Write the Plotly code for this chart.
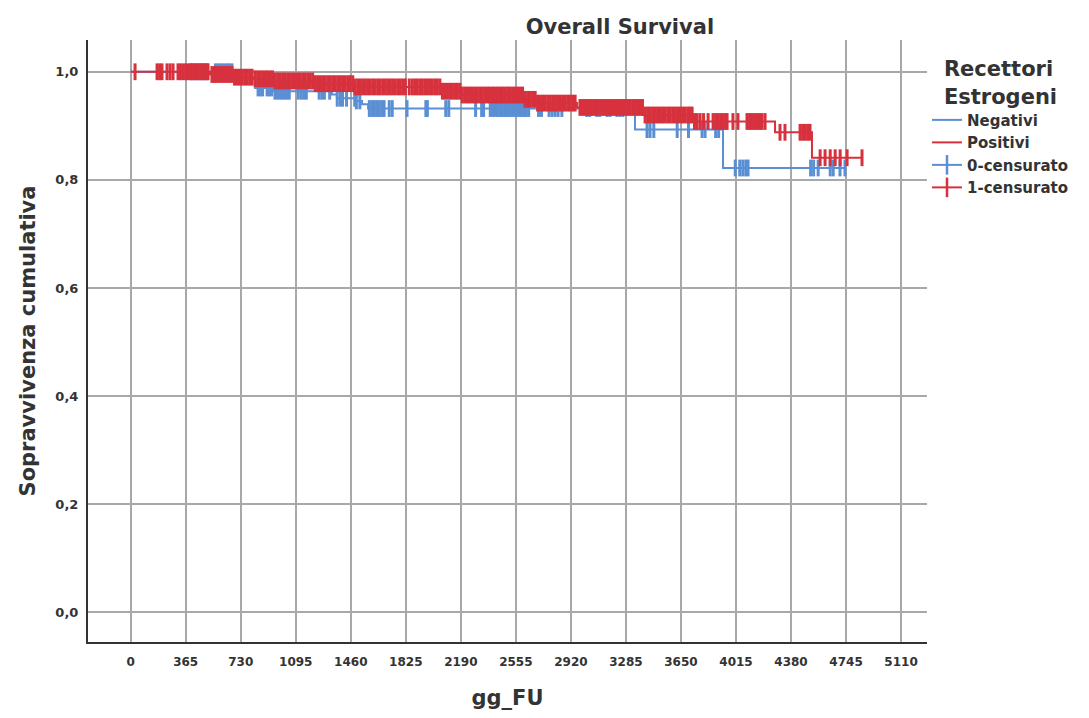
import numpy as np
import plotly.graph_objects as go

# ---------------- data ----------------
# Kaplan-Meier step data (event days and survival after each event)
neg_event_days = [825, 951, 1335, 1368, 1488, 1535, 1575, 3345, 3929]
neg_surv = [0.970, 0.964, 0.958, 0.951, 0.946, 0.940, 0.932, 0.893, 0.822]
neg_end_day = 4738

pos_event_days = [526, 679, 811, 944, 1209, 1475, 2052, 2185, 2602, 2695, 2960, 3398, 3730, 4274, 4519]
pos_surv = [0.995, 0.990, 0.987, 0.983, 0.978, 0.972, 0.964, 0.957, 0.949, 0.942, 0.934, 0.920, 0.908, 0.888, 0.841]
pos_end_day = 4851

# censored observation days
neg_censor_days = [
    396, 410, 425, 440, 455, 470, 485, 500, 508, 562, 578, 594, 610, 626, 642, 656, 672,
    845, 860, 875, 905, 920, 935,
    957, 972, 988, 1004, 1020, 1036, 1052, 1112, 1132, 1150, 1165, 1250, 1268, 1285, 1320,
    1370, 1390, 1405, 1432, 1486, 1497, 1520,
    1583, 1600, 1616, 1632, 1648, 1665, 1681, 1715, 1735, 1833, 1958, 1968, 2090, 2110, 2288, 2328, 2341,
    2385, 2400, 2416, 2432, 2448, 2464, 2480, 2496, 2512, 2528, 2544, 2560, 2576, 2592, 2608, 2624, 2640,
    2705, 2725, 2775, 2795, 2815, 2835, 2860, 3025, 3045, 3092, 3112, 3160, 3180, 3225, 3245, 3265,
    3425, 3445, 3470, 3625, 3700, 3790, 3810, 3880, 3900,
    4010, 4040, 4060, 4080, 4095, 4510, 4530, 4560, 4640, 4660, 4705, 4738,
]

pos_censor_days = [
    29, 175, 192, 208, 241, 261, 281,
    314, 330, 347, 364, 380, 397, 414, 430, 447, 464, 480, 497, 513,
    539, 556, 572, 589, 606, 622, 639, 656, 672, 689, 706, 722, 739, 756, 772, 789, 805,
    825, 842, 858, 875, 892, 908, 925, 941, 958, 975, 991, 1008, 1024, 1041, 1058, 1074,
    1091, 1107, 1124, 1141, 1157, 1174, 1190, 1207, 1224, 1240, 1257, 1273, 1290, 1307,
    1323, 1340, 1356, 1373, 1390, 1406, 1423, 1440, 1456, 1473, 1489, 1506, 1523, 1539,
    1556, 1572, 1589, 1606, 1622, 1639, 1655, 1672, 1689, 1705, 1722, 1738, 1755, 1772,
    1788, 1805, 1822, 1848, 1868,
    1885, 1901, 1918, 1934, 1951, 1968, 1984, 2001, 2018, 2034, 2051, 2068, 2084, 2101,
    2117, 2134, 2151, 2167, 2184, 2200, 2217, 2234, 2250, 2267, 2284, 2300, 2317, 2333,
    2350, 2367, 2383, 2400, 2417, 2433, 2450, 2466, 2483, 2500, 2516, 2533, 2550, 2566,
    2583, 2599, 2616, 2633, 2649, 2666, 2683, 2699, 2716, 2732, 2749, 2766, 2782, 2799,
    2816, 2832, 2849, 2865, 2882, 2899, 2915, 2932, 2948,
    2980, 2997, 3013, 3030, 3046, 3063, 3080, 3096, 3113, 3130, 3146, 3163, 3179, 3196,
    3213, 3229, 3246, 3262, 3279, 3296, 3312, 3329, 3346, 3362, 3379, 3395, 3412, 3429,
    3445, 3462, 3479, 3495, 3512, 3528, 3545, 3562, 3578, 3595, 3612, 3628, 3645, 3661,
    3678, 3695, 3710,
    3724, 3740, 3757, 3777, 3800, 3830, 3863, 3880, 3896, 3913, 3930, 3946, 3956, 3995,
    4028, 4088, 4105, 4121, 4138, 4155, 4171, 4188, 4208, 4307, 4340, 4440, 4457, 4473,
    4490, 4506, 4573, 4606, 4640, 4673, 4706, 4752, 4851,
]

x_tick_vals = [0, 365, 730, 1095, 1460, 1825, 2190, 2555, 2920, 3285, 3650, 4015, 4380, 4745, 5110]
x_tick_text = ["0", "365", "730", "1095", "1460", "1825", "2190", "2555", "2920", "3285",
               "3650", "4015", "4380", "4745", "5110"]
y_tick_vals = [0.0, 0.2, 0.4, 0.6, 0.8, 1.0]
y_tick_text = ["0,0", "0,2", "0,4", "0,6", "0,8", "1,0"]

group_names = ["Negativi", "Positivi"]
censor_names = ["0-censurato", "1-censurato"]

BLUE = "#5b8fd3"
RED = "#d7313e"
TXT = "#333333"
FONT = "DejaVu Sans"


def step_xy(ev, sv, end):
    xs = [0] + list(ev) + [end]
    ys = [1.0] + list(sv) + [sv[-1]]
    return xs, ys


def surv_at(ev, sv, days):
    ev = np.asarray(ev)
    sv = np.concatenate([[1.0], np.asarray(sv)])
    idx = np.searchsorted(ev, np.asarray(days), side="right")
    return sv[idx]


fig = go.Figure()

groups = [
    (neg_event_days, neg_surv, neg_end_day, neg_censor_days, BLUE, group_names[0], censor_names[0]),
    (pos_event_days, pos_surv, pos_end_day, pos_censor_days, RED, group_names[1], censor_names[1]),
]

for rank, (ev, sv, end, cens, col, name, cname) in enumerate(groups):
    xs, ys = step_xy(ev, sv, end)
    fig.add_trace(go.Scatter(
        x=xs, y=ys, mode="lines", line=dict(color=col, width=2, shape="hv"),
        name=name, legendrank=rank + 1, hoverinfo="skip"))
    fig.add_trace(go.Scatter(
        x=cens, y=surv_at(ev, sv, cens), mode="markers",
        marker=dict(symbol="line-ns", size=12, line=dict(color=col, width=3)),
        showlegend=False, hoverinfo="skip"))

for rank, (col, cname) in enumerate([(BLUE, censor_names[0]), (RED, censor_names[1])]):
    fig.add_trace(go.Scatter(
        x=[None], y=[None], mode="lines+markers", name=cname, legendrank=rank + 3,
        line=dict(color=col, width=2),
        marker=dict(symbol="line-ns", size=14, line=dict(color=col, width=2.5))))

axis_common = dict(
    showgrid=True, gridcolor="#a8a8a8", gridwidth=2,
    showline=True, linecolor=TXT, linewidth=2, mirror=False,
    zeroline=False, ticks="",
)

fig.update_xaxes(
    range=[-283, 5282], tickmode="array", tickvals=x_tick_vals, ticktext=x_tick_text,
    tickfont=dict(family=FONT, size=12, color=TXT, weight="bold"), ticklabelstandoff=8,
    title=dict(text="gg_FU", font=dict(family=FONT, size=21, color=TXT, weight="bold"), standoff=22),
    **axis_common)
fig.update_yaxes(
    range=[-0.0551, 1.0588], tickmode="array", tickvals=y_tick_vals, ticktext=y_tick_text,
    tickfont=dict(family=FONT, size=13, color=TXT, weight="bold"), ticklabelstandoff=5,
    title=dict(text="Sopravvivenza cumulativa", font=dict(family=FONT, size=21, color=TXT, weight="bold"), standoff=14),
    **axis_common)

fig.update_layout(
    width=1089, height=718,
    margin=dict(l=88, r=162, t=40, b=72),
    paper_bgcolor="white", plot_bgcolor="white",
    font=dict(family=FONT, color=TXT),
    title=dict(text="Overall Survival", xref="paper", x=0.634, xanchor="center",
               yref="container", y=1 - 27 / 718, yanchor="middle",
               font=dict(family=FONT, size=21, color=TXT, weight="bold")),
    legend=dict(
        title=dict(text="Recettori<br>Estrogeni", side="top center",
                   font=dict(family=FONT, size=21, color=TXT, weight="bold")),
        x=1.0, xanchor="left", y=0.985, yanchor="top",
        font=dict(family=FONT, size=15, color=TXT, weight="bold"),
        itemwidth=30, tracegroupgap=0, bgcolor="rgba(0,0,0,0)",
    ),
)

fig.write_html("out.html")
